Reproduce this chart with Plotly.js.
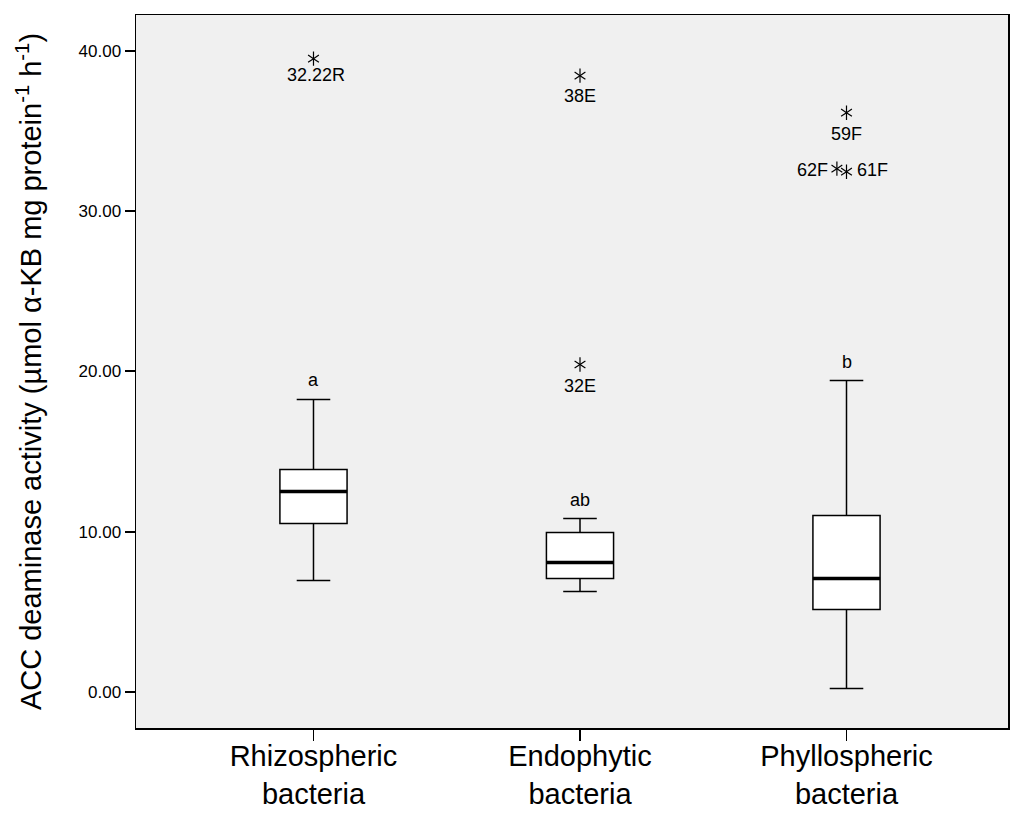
<!DOCTYPE html>
<html>
<head>
<meta charset="utf-8">
<script src="https://cdn.plot.ly/plotly-3.0.1.min.js"></script>
<style>html,body{margin:0;padding:0;background:#fff;}#chart{width:1011px;height:819px;}</style>
</head>
<body>
<div id="chart"></div>
<script>
// ---- data ----
const categories = ['Rhizospheric<br>bacteria', 'Endophytic<br>bacteria', 'Phyllospheric<br>bacteria'];
const lowerWhisker = [6.96, 6.28, 0.23];
const q1 = [10.52, 7.09, 5.16];
const median = [12.51, 8.09, 7.09];
const q3 = [13.88, 9.96, 11.02];
const upperWhisker = [18.25, 10.83, 19.43];
const groupLetters = ['a', 'ab', 'b'];
const outlierGroup = [0, 1, 1, 2, 2, 2];
const outlierValue = [39.5, 38.44, 20.43, 36.13, 32.64, 32.45];
const outlierLabel = ['32.22R', '38E', '32E', '59F', '62F', '61F'];
const yTicks = [0, 10, 20, 30, 40];

// ---- styling ----
const FONT = 'Arial, "Liberation Sans", sans-serif';
// label placement style per outlier: [xanchor, xshift, yshift, starNudge]
const labelStyle = [
  ['center', 3, -16, 0],
  ['center', 0, -20, 0],
  ['center', 0, -21, 0],
  ['center', 0, -21, 0],
  ['right', -7, -1, -0.036],
  ['left', 8, 2, 0]
];

const idx = categories.map((_, i) => i);

const boxTrace = {
  type: 'box', x: idx, q1: q1, median: median, q3: q3,
  lowerfence: lowerWhisker, upperfence: upperWhisker,
  width: 0.252, whiskerwidth: 0.5,
  fillcolor: '#ffffff', line: {color: '#000000', width: 1.5},
  boxpoints: false, hoverinfo: 'skip', showlegend: false
};
const medianTrace = {
  type: 'box', x: idx, q1: median, median: median, q3: median,
  lowerfence: median, upperfence: median,
  width: 0.252, whiskerwidth: 0,
  fillcolor: 'rgba(0,0,0,0)', line: {color: '#000000', width: 3.5},
  boxpoints: false, hoverinfo: 'skip', showlegend: false
};
const ox = outlierGroup.map((g, i) => g + labelStyle[i][3]);
const starA = {
  type: 'scatter', mode: 'markers', x: ox, y: outlierValue,
  marker: {symbol: 'y-up-open', size: 9, color: '#000', line: {color: '#000', width: 1.2}},
  hoverinfo: 'skip', showlegend: false
};
const starB = Object.assign({}, starA, {
  marker: {symbol: 'y-down-open', size: 9, color: '#000', line: {color: '#000', width: 1.2}}
});

const annotations = [];
groupLetters.forEach((t, i) => annotations.push({
  x: i, y: upperWhisker[i], text: t, showarrow: false, yshift: 19,
  xanchor: 'center', yanchor: 'middle', font: {family: FONT, size: 18, color: '#000'}
}));
outlierLabel.forEach((t, i) => annotations.push({
  x: ox[i], y: outlierValue[i], text: t, showarrow: false,
  xanchor: labelStyle[i][0], xshift: labelStyle[i][1], yshift: labelStyle[i][2],
  yanchor: 'middle', font: {family: FONT, size: 18, color: '#000'}
}));

const layout = {
  width: 1011, height: 819,
  margin: {l: 136, r: 3, t: 15, b: 91},
  paper_bgcolor: '#ffffff', plot_bgcolor: '#f0f0f0',
  boxmode: 'overlay', showlegend: false,
  font: {family: FONT, color: '#000'},
  xaxis: {
    range: [-0.666, 2.606], tickmode: 'array', tickvals: idx, ticktext: categories,
    showgrid: false, zeroline: false, showline: true, linecolor: '#000', linewidth: 1.5,
    mirror: true, ticks: 'outside', ticklen: 11, tickwidth: 1.5, tickcolor: '#000',
    ticklabelstandoff: -9,
    tickfont: {family: FONT, size: 29, color: '#000'}, fixedrange: true
  },
  yaxis: {
    range: [-2.23, 42.22], tickmode: 'array', tickvals: yTicks,
    ticktext: yTicks.map(v => v.toFixed(2)),
    showgrid: false, zeroline: false, showline: true, linecolor: '#000', linewidth: 1.5,
    mirror: true, ticks: 'outside', ticklen: 10, tickwidth: 2, tickcolor: '#000',
    tickfont: {family: FONT, size: 17, color: '#000'},
    title: {text: 'ACC deaminase activity (µmol α-KB mg protein<sup>-1</sup> h<sup>-1</sup>)',
            font: {family: FONT, size: 29, color: '#000'}, standoff: 28},
    automargin: false, fixedrange: true
  },
  annotations: annotations
};

Plotly.newPlot('chart', [boxTrace, medianTrace, starA, starB], layout, {displayModeBar: false, staticPlot: true});
</script>
</body>
</html>
